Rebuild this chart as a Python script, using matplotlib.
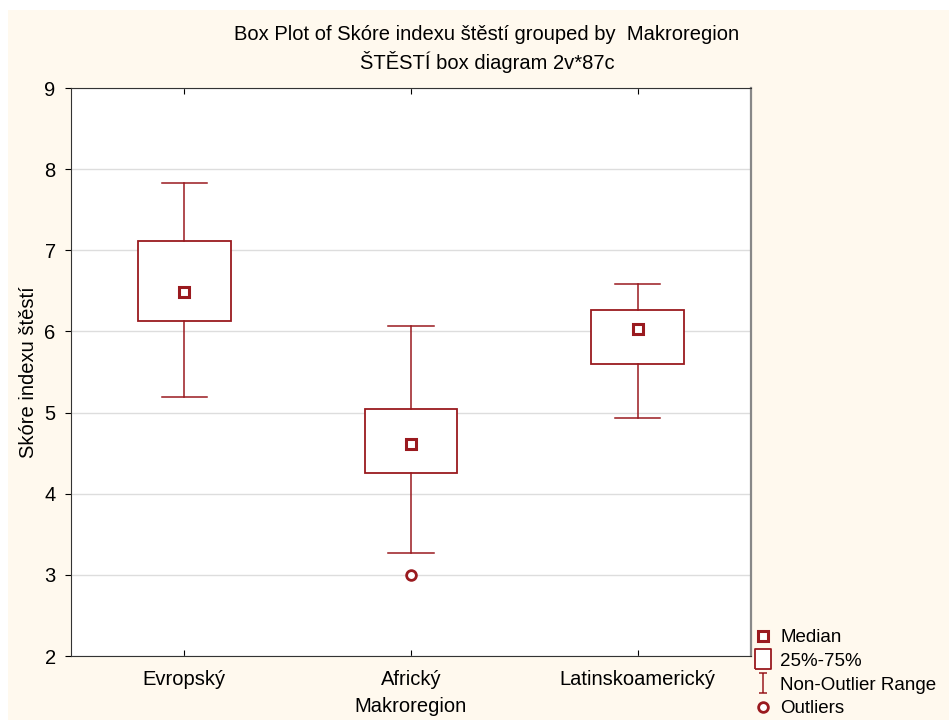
import matplotlib
matplotlib.use("Agg")
import matplotlib.pyplot as plt
from matplotlib.patches import Rectangle
from matplotlib.lines import Line2D
from matplotlib.path import Path

plt.rcParams['font.family'] = ['Liberation Sans', 'DejaVu Sans']

categories = ["Evropský", "Africký", "Latinskoamerický"]
whisker_low = [5.19, 3.27, 4.93]
q1 = [6.13, 4.25, 5.60]
median = [6.49, 4.61, 6.03]
q3 = [7.11, 5.04, 6.26]
whisker_high = [7.83, 6.07, 6.58]
outliers = [[], [3.00], []]

RED = "#9a1a1f"
FS = 14.5

fig = plt.figure(figsize=(9.49, 7.2), dpi=100)
fig.patch.set_facecolor("white")
fig.patches.append(Rectangle((8/949, 0), 1 - 8/949, 1 - 10/720, transform=fig.transFigure,
                             facecolor="#fff9ee", edgecolor="none", zorder=-10))

ax = fig.add_axes([71/949, 1 - 656/720, 680/949, 568/720])
ax.set_facecolor("white")

stats = []
for i, c in enumerate(categories):
    stats.append(dict(label=c, whislo=whisker_low[i], q1=q1[i], med=median[i],
                      q3=q3[i], whishi=whisker_high[i], fliers=outliers[i]))

ax.bxp(stats, positions=[1, 2, 3], widths=0.41, capwidths=0.2, showfliers=False,
       patch_artist=True,
       boxprops=dict(facecolor="white", edgecolor=RED, linewidth=1.3),
       whiskerprops=dict(color=RED, linewidth=1.1),
       capprops=dict(color=RED, linewidth=1.1),
       medianprops=dict(linestyle="none"))
ax.plot([1, 2, 3], median, linestyle="none", marker="s", markersize=7,
        markerfacecolor="white", markeredgecolor=RED, markeredgewidth=2.2, zorder=5)
for i, fl in enumerate(outliers):
    if fl:
        ax.plot([i + 1] * len(fl), fl, linestyle="none", marker="o", markersize=7,
                markerfacecolor="white", markeredgecolor=RED, markeredgewidth=2.0, zorder=5)

ax.set_xlim(0.5, 3.5)
ax.set_ylim(2, 9)
ax.set_yticks(range(2, 10))
ax.set_xticks([1, 2, 3])
ax.set_xticklabels(categories, fontsize=FS)
ax.tick_params(axis='y', direction='out', length=4, labelsize=FS, pad=7)
ax.tick_params(axis='x', direction='in', length=4, top=True, labelsize=FS, pad=10)
ax.yaxis.grid(True, color="#dddddd", linewidth=1)
ax.set_axisbelow(True)
for s in ['left', 'top', 'bottom']:
    ax.spines[s].set_color("#333333")
ax.spines['right'].set_color("#888888")
ax.spines['right'].set_linewidth(1.6)

ax.set_ylabel("Skóre indexu štěstí", fontsize=FS, labelpad=5)
fig.text(411/949, 1 - 707/720, "Makroregion", ha="center", va="center", fontsize=FS)

fig.text(487/949, 1 - 34/720, "Box Plot of Skóre indexu štěstí grouped by  Makroregion",
         ha="center", va="center", fontsize=FS)
fig.text(487/949, 1 - 62/720, "ŠTĚSTÍ box diagram 2v*87c",
         ha="center", va="center", fontsize=FS)

ibeam = Path([(-0.4, 1), (0.4, 1), (0, 1), (0, -1), (-0.4, -1), (0.4, -1)],
             [Path.MOVETO, Path.LINETO, Path.MOVETO, Path.LINETO, Path.MOVETO, Path.LINETO])
handles = [
    Line2D([], [], linestyle="none", marker="s", markersize=7, markerfacecolor="white",
           markeredgecolor=RED, markeredgewidth=2.2),
    Line2D([], [], linestyle="none", marker=Path([(-0.75, -1), (0.75, -1), (0.75, 1), (-0.75, 1), (-0.75, -1)]),
           markersize=14.5, markerfacecolor="white", markeredgecolor=RED, markeredgewidth=1.3),
    Line2D([], [], linestyle="none", marker=ibeam, markersize=14.5, markerfacecolor="none",
           markeredgecolor=RED, markeredgewidth=1.1),
    Line2D([], [], linestyle="none", marker="o", markersize=7, markerfacecolor="white",
           markeredgecolor=RED, markeredgewidth=2.0),
]
labels = ["Median", "25%-75%", "Non-Outlier Range", "Outliers"]
fig.legend(handles, labels, loc="upper left", bbox_to_anchor=(755/949, 1 - 629/720),
           frameon=False, fontsize=13.5, handlelength=0.9, handletextpad=0.45,
           labelspacing=0.35, borderpad=0, borderaxespad=0)

fig.savefig("out.png", dpi=100)
